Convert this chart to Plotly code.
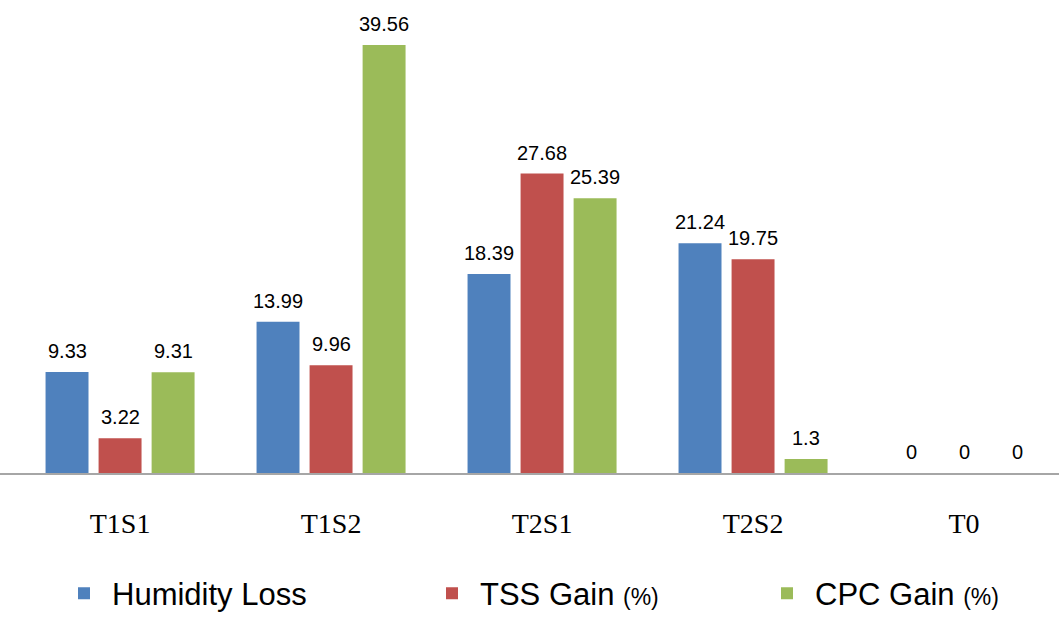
import plotly.graph_objects as go

categories = ["T1S1", "T1S2", "T2S1", "T2S2", "T0"]
humidity_loss = [9.33, 13.99, 18.39, 21.24, 0]
tss_gain = [3.22, 9.96, 27.68, 19.75, 0]
cpc_gain = [9.31, 39.56, 25.39, 1.3, 0]

series_names = ["Humidity Loss",
                "TSS Gain <span style='font-size:23px'>(%)</span>",
                "CPC Gain <span style='font-size:23px'>(%)</span>"]
series_values = [humidity_loss, tss_gain, cpc_gain]
colors = ["#4f81bd", "#c0504d", "#9bbb59"]
legend_ids = ["legend", "legend2", "legend3"]
legend_x = [56, 424, 759]
label_xshift = [-53, 0, 53]

fig = go.Figure()
for name, vals, col, lg in zip(series_names, series_values, colors, legend_ids):
    fig.add_trace(go.Bar(
        x=categories, y=vals, name=name, legend=lg,
        marker=dict(color=col, line=dict(width=0)),
    ))

annotations = []
for vals, dx in zip(series_values, label_xshift):
    for c, v in zip(categories, vals):
        annotations.append(dict(
            x=c, y=v, xref="x", yref="y", text="%g" % v, showarrow=False,
            xshift=dx, yshift=21, yanchor="middle", xanchor="center",
            font=dict(family="Liberation Sans", size=20, color="#000000"),
        ))

legend_common = dict(
    orientation="h", xref="container", yref="container",
    y=0.038, xanchor="left", yanchor="middle",
    font=dict(family="Liberation Sans", size=31, color="#000000"),
    itemwidth=46, bgcolor="rgba(0,0,0,0)",
)

fig.update_layout(
    width=1059, height=617,
    margin=dict(l=0, r=0, t=10, b=144),
    paper_bgcolor="white", plot_bgcolor="white",
    barmode="group", bargap=0.246, bargroupgap=0.19,
    showlegend=True,
    annotations=annotations,
    legend=dict(x=legend_x[0] / 1059, **legend_common),
    legend2=dict(x=legend_x[1] / 1059, **legend_common),
    legend3=dict(x=legend_x[2] / 1059, **legend_common),
    xaxis=dict(
        range=[-0.569, 4.45],
        showline=True, linecolor="#a6a6a6", linewidth=2,
        ticks="", showgrid=False, ticklabelstandoff=24,
        tickfont=dict(family="Liberation Serif", size=28, color="#000000"),
    ),
    yaxis=dict(
        range=[0, 42.8], visible=False, showgrid=False, zeroline=False,
    ),
)

fig.write_html("out.html", config={"displayModeBar": False},
               post_script="document.body.style.margin='0px';")
